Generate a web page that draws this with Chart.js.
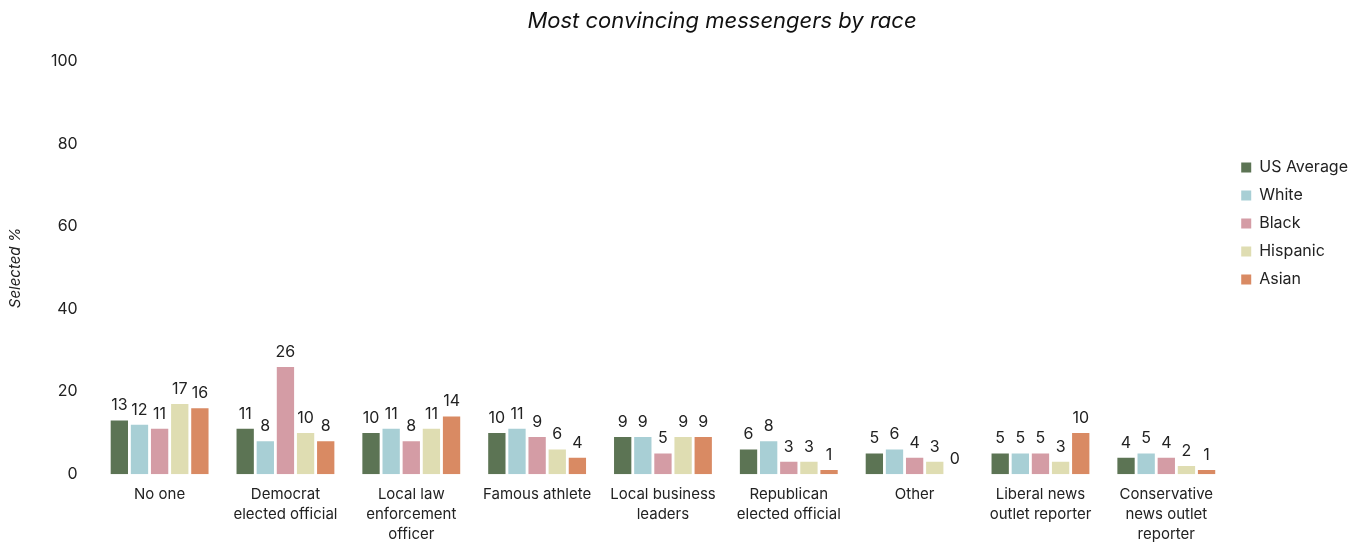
<!DOCTYPE html>
<html>
<head>
<meta charset="utf-8">
<script src="https://cdn.jsdelivr.net/npm/chart.js@4"></script>
<style>
  html, body { margin: 0; padding: 0; background: #fff; }
  #wrap { width: 1370px; height: 542px; position: relative; }
</style>
</head>
<body>
<div id="wrap"><canvas id="messengerChart"></canvas></div>
<script>
// Most convincing messengers, split by race
const categories = [
  'No one',
  ['Democrat', 'elected official'],
  ['Local law', 'enforcement', 'officer'],
  'Famous athlete',
  ['Local business', 'leaders'],
  ['Republican', 'elected official'],
  'Other',
  ['Liberal news', 'outlet reporter'],
  ['Conservative', 'news outlet', 'reporter']
];

const usAverage = [13, 11, 10, 10, 9, 6, 5, 5, 4];
const white     = [12, 8, 11, 11, 9, 8, 6, 5, 5];
const black     = [11, 26, 8, 9, 5, 3, 4, 5, 4];
const hispanic  = [17, 10, 11, 6, 9, 3, 3, 3, 2];
const asian     = [16, 8, 14, 4, 9, 1, 0, 10, 1];

const yTicks = [0, 20, 40, 60, 80, 100];

const FONT = 'Inter, "Noto Sans", sans-serif';

// draws the number above each bar
const valueLabels = {
  id: 'valueLabels',
  afterDatasetsDraw(chart) {
    const ctx = chart.ctx;
    ctx.save();
    ctx.font = '16px ' + FONT;
    ctx.fillStyle = '#222';
    ctx.textAlign = 'center';
    ctx.textBaseline = 'bottom';
    chart.data.datasets.forEach((ds, i) => {
      const meta = chart.getDatasetMeta(i);
      meta.data.forEach((bar, j) => {
        ctx.fillText(String(ds.data[j]), bar.x, bar.y - 7);
      });
    });
    ctx.restore();
  }
};

// nudge the title so it sits centred over the plot rather than the canvas
const titleShift = {
  id: 'titleShift',
  afterLayout(chart) {
    const t = chart.titleBlock;
    if (t) {
      t.left += 40;
      t.right += 40;
    }
  }
};

const ctx = document.getElementById('messengerChart').getContext('2d');
new Chart(ctx, {
  type: 'bar',
  data: {
    labels: categories,
    datasets: [
      { label: 'US Average', data: usAverage, backgroundColor: '#5c7454' },
      { label: 'White', data: white, backgroundColor: '#a8cfd5' },
      { label: 'Black', data: black, backgroundColor: '#d49ca5' },
      { label: 'Hispanic', data: hispanic, backgroundColor: '#dfddb2' },
      { label: 'Asian', data: asian, backgroundColor: '#d98a63' }
    ]
  },
  options: {
    responsive: true,
    maintainAspectRatio: false,
    animation: false,
    categoryPercentage: 0.8,
    barPercentage: 0.86,
    layout: { padding: { left: 6, right: 12, top: 8, bottom: 0 } },
    plugins: {
      title: {
        display: true,
        text: 'Most convincing messengers by race',
        color: '#111',
        font: { family: FONT, size: 22, style: 'italic', weight: 'normal' },
        padding: { top: 0, bottom: 27 }
      },
      legend: {
        position: 'right',
        align: 'start',
        title: { display: true, text: '', padding: { top: 125, bottom: 0 } },
        labels: {
          boxWidth: 10,
          boxHeight: 10,
          padding: 12,
          color: '#222',
          font: { family: FONT, size: 16 }
        }
      },
      tooltip: { enabled: false }
    },
    scales: {
      x: {
        grid: { display: false },
        border: { display: false },
        afterFit(scale) {
          scale.height -= 5;
        },
        ticks: {
          color: '#222',
          font: { family: FONT, size: 15, lineHeight: 1.35 },
          maxRotation: 0,
          autoSkip: false,
          padding: 2
        }
      },
      y: {
        min: 0,
        max: 100,
        afterBuildTicks(axis) {
          axis.ticks = yTicks.map(v => ({ value: v }));
        },
        grid: { display: false },
        border: { display: false },
        title: {
          display: true,
          text: 'Selected %',
          color: '#222',
          font: { family: FONT, size: 15, style: 'italic' },
          padding: { top: 0, bottom: 16 }
        },
        ticks: {
          color: '#222',
          font: { family: FONT, size: 16 },
          padding: 11
        }
      }
    }
  },
  plugins: [valueLabels, titleShift]
});
</script>
</body>
</html>
